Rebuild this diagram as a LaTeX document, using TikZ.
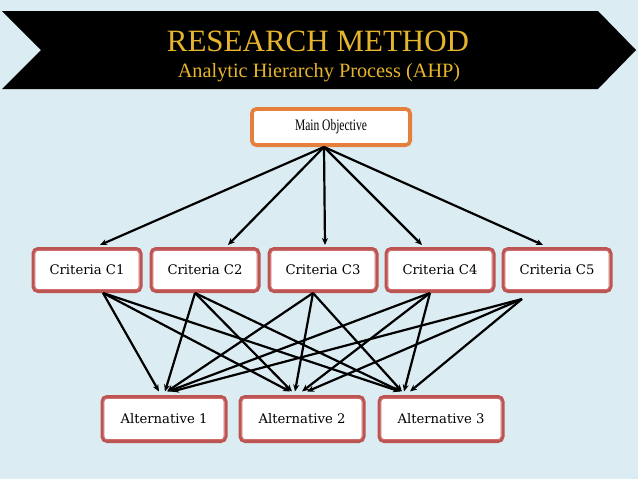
\documentclass[tikz,border=0pt]{standalone}
\usepackage{fontspec}
\setmainfont{Liberation Serif}
\newfontfamily\boxfont{DejaVu Serif}
\newfontfamily\condfont[FakeStretch=0.72]{Liberation Serif}
\usetikzlibrary{arrows.meta,calc}
\definecolor{bg}{RGB}{219,236,243}
\definecolor{gold}{RGB}{230,180,45}
\definecolor{boxred}{RGB}{188,84,82}
\definecolor{innerred}{RGB}{205,110,108}
\definecolor{boxorange}{RGB}{228,128,60}
\begin{document}
\begin{tikzpicture}[x=1pt,y=-1pt,
  box/.style={draw=boxred, line width=3pt, fill=white, rounded corners=5pt, inner sep=0pt,
    font=\boxfont\fontsize{13.2}{16}\selectfont},
  crit/.style={box, minimum width=108pt, minimum height=43pt},
  alt/.style={box, minimum width=124pt, minimum height=45pt},
  mainbox/.style={box, draw=boxorange, minimum width=159pt, minimum height=37pt,
    font=\condfont\fontsize{16}{18}\selectfont},
  innerline/.style={line width=1pt, rounded corners=3pt},
  arr/.style={line width=2.2pt, -{Stealth[length=7pt,width=6pt]}},
  titletext/.style={text=gold, inner sep=0pt}]
\useasboundingbox (0,0) rectangle (638,479);
\fill[bg] (0,0) rectangle (638,479);
% banner
\fill[black] (2,11) -- (598,11) -- (636,50) -- (598,89) -- (2,89) -- (41,50) -- cycle;
\node[titletext, anchor=base, font=\fontsize{31}{33}\selectfont] (title) at (318,52) {RESEARCH METHOD};
\node[titletext, anchor=base, font=\fontsize{20.3}{22}\selectfont] (subtitle) at (319,77) {Analytic Hierarchy Process (AHP)};
% nodes
\node[mainbox] (main) at (331,127) {Main Objective};
\node[crit] (c1) at (87,270) {Criteria C1};
\node[crit] (c2) at (205,270) {Criteria C2};
\node[crit] (c3) at (323,270) {Criteria C3};
\node[crit] (c4) at (440,270) {Criteria C4};
\node[crit] (c5) at (557,270) {Criteria C5};
\node[alt] (a1) at (164,419) {Alternative 1};
\node[alt] (a2) at (302,419) {Alternative 2};
\node[alt] (a3) at (441,419) {Alternative 3};
% inner lines
\draw[innerline, boxorange] ([xshift=3.4pt,yshift=-3.4pt]main.north west) rectangle ([xshift=-3.4pt,yshift=3.4pt]main.south east);
\foreach \n in {c1,c2,c3,c4,c5,a1,a2,a3}
  \draw[innerline, innerred] ([xshift=3.4pt,yshift=-3.4pt]\n.north west) rectangle ([xshift=-3.4pt,yshift=3.4pt]\n.south east);
% top arrows
\coordinate (mo) at ([xshift=-7pt]main.south);
\foreach \i/\dx in {1/13,2/23,3/2,4/-18,5/-14}
  \draw[arr] (mo) -- ([xshift=\dx pt,yshift=2pt]c\i.north);
% bottom arrows
\foreach \i/\dx/\dy in {1/16/0,2/-10/0,3/-10/0,4/-10/0,5/-35/-6}
  \coordinate (s\i) at ([xshift=\dx pt,yshift=\dy pt]c\i.south);
\foreach \i/\p/\q/\r in {1/-5/-12/-41,2/1/-10/-40,3/3/-7/-39,4/4/0/-37,5/8/5/-31}{
  \draw[arr] (s\i) -- ([xshift=\p pt,yshift=3.5pt]a1.north);
  \draw[arr] (s\i) -- ([xshift=\q pt,yshift=3.5pt]a2.north);
  \draw[arr] (s\i) -- ([xshift=\r pt,yshift=3.5pt]a3.north);
}
\end{tikzpicture}
\end{document}
